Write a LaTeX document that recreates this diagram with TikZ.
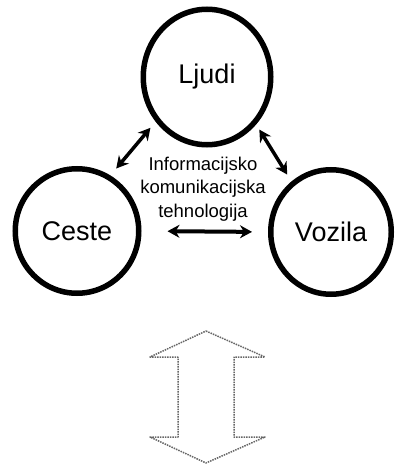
\documentclass[tikz,border=0pt]{standalone}
\usepackage{fontspec}
\setmainfont{Liberation Sans}
\usetikzlibrary{arrows.meta,shapes.geometric}

\begin{document}
\begin{tikzpicture}[x=1pt, y=-1pt,
    circ/.style={draw, ellipse, line width=5.5pt, inner sep=0pt,
        font=\fontsize{27}{32}\selectfont},
    link/.style={line width=3.5pt,
        {Stealth[length=12pt,width=13pt]}-{Stealth[length=12pt,width=13pt]}}]
    \useasboundingbox (0,0) rectangle (395,465);
    % the three partners
    \node[circ, minimum width=127.5pt, minimum height=135.5pt] (ljudi) at (207,77) {Ljudi};
    \node[circ, minimum width=123.5pt, minimum height=124.5pt] (ceste) at (77,231) {Ceste};
    \node[circ, minimum width=120.5pt, minimum height=124.5pt] (vozila) at (331,232) {Vozila};
    \node[font=\fontsize{18.5}{23.5}\selectfont, align=center] (ikt) at (203,189)
        {Informacijsko\\komunikacijska\\tehnologija};
    % links
    \draw[link, shorten <=8pt, shorten >=9pt] (ljudi.221) -- (ceste.59);
    \draw[link, shorten <=6pt, shorten >=8pt] (ljudi.316) -- (vozila.128);
    \draw[link, line width=4pt, shorten <=26pt, shorten >=16pt] (ceste.east) -- (vozila.west);
    % hollow double arrow
    \draw[densely dotted, line width=1.5pt, black!60, line join=round]
        (206,331) -- (265,357) -- (234,357) -- (234,437) -- (265,437) -- (206,463)
        -- (150,437) -- (178,437) -- (178,357) -- (150,357) -- cycle;
\end{tikzpicture}
\end{document}
